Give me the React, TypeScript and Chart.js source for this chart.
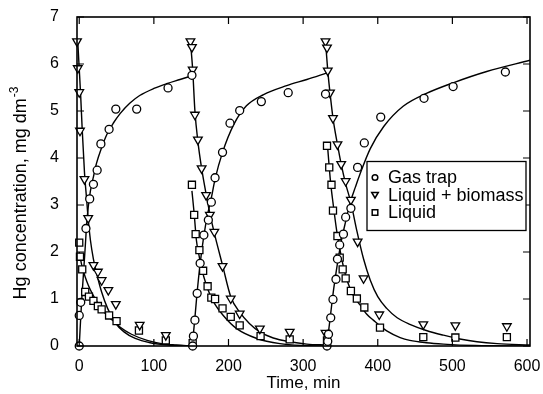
import React, { useEffect, useRef } from 'react';
import { Chart, registerables } from 'chart.js';

Chart.register(...registerables);

const FONT = "'Liberation Sans', Arial, Helvetica, sans-serif";

const xTicks = [0, 100, 200, 300, 400, 500, 600];
const yTicks = [0, 1, 2, 3, 4, 5, 6, 7];

const seriesLabels = ['Gas trap', 'Liquid + biomass', 'Liquid'];
const xTitle = 'Time, min';
const yTitleMain = 'Hg concentration, mg dm';
const yTitleSup = '-3';

// measured points [time (min), Hg concentration (mg dm-3)]
const gasTrapPoints: [number, number][] = [
  [0, 0], [0, 0.65], [2, 0.93], [9, 2.5], [14, 3.13], [19, 3.44], [24, 3.74], [29, 4.3],
  [40, 4.61], [49, 5.04], [77, 5.04], [119, 5.49], [151, 5.76],
  [152, 0], [153, 0.21], [155, 0.55], [158, 1.12], [162, 1.76], [167, 2.36], [173, 2.68],
  [177, 3.06], [182, 3.58], [192, 4.12], [202, 4.74], [215, 5.01], [244, 5.2], [280, 5.39], [330, 5.36],
  [332, 0], [333, 0.1], [334, 0.25], [337, 0.6], [340, 0.99], [344, 1.42], [346, 1.85], [349, 2.15],
  [354, 2.38], [357, 2.74], [364, 2.93], [373, 3.8], [382, 4.32], [404, 4.87], [462, 5.27],
  [501, 5.52], [571, 5.83],
];

const liquidBiomassPoints: [number, number][] = [
  [-3, 6.48], [-2, 5.91], [0, 5.4], [1, 4.58], [7, 3.55], [12, 2.72], [19, 1.72], [25, 1.58],
  [30, 1.4], [39, 1.19], [49, 0.89], [81, 0.45], [116, 0.23],
  [149, 6.48], [151, 6.36], [152, 5.88], [155, 4.92], [159, 4.39], [164, 3.78], [170, 3.21],
  [175, 2.79], [181, 2.43], [192, 1.7], [203, 1.01], [215, 0.69], [242, 0.37], [282, 0.3], [330, 0.28],
  [330, 6.48], [332, 6.35], [333, 5.86], [336, 5.39], [340, 4.85], [346, 4.29], [351, 3.87],
  [357, 3.51], [364, 3.11], [373, 2.22], [381, 1.44], [402, 0.67], [461, 0.46], [504, 0.44], [573, 0.42],
];

const liquidPoints: [number, number][] = [
  [0, 2.2], [1, 1.9], [4, 1.63], [8, 1.15], [13, 1.05], [19, 0.96], [25, 0.85], [30, 0.78],
  [40, 0.65], [50, 0.53], [80, 0.33], [116, 0.12], [152, 0.06],
  [151, 3.43], [154, 2.79], [156, 2.38], [161, 2.04], [166, 1.6], [172, 1.27], [177, 1.03],
  [182, 1.0], [192, 0.8], [203, 0.62], [215, 0.44], [243, 0.21], [282, 0.14], [332, 0.12],
  [332, 4.26], [335, 3.8], [338, 3.43], [340, 2.88], [346, 2.34], [349, 1.88], [353, 1.63],
  [357, 1.44], [364, 1.17], [372, 1.01], [382, 0.82], [403, 0.39], [461, 0.19], [504, 0.18], [573, 0.19],
];

// fitted curves
const gasTrapFit1: [number, number][] = [
  [0, 0], [3, 0.9], [5.5, 1.5], [8, 2.1], [10, 2.6], [12, 2.95], [15, 3.3], [19, 3.6], [23, 3.88],
  [30, 4.22], [37, 4.5], [46, 4.75], [55, 4.95], [68, 5.17], [81, 5.33], [100, 5.48], [117, 5.58],
  [135, 5.67], [151, 5.75],
];
const gasTrapFit2: [number, number][] = [
  [152, 0], [153, 0.25], [155, 0.6], [158, 1.15], [162, 1.75], [167, 2.35], [172, 2.8], [177, 3.15],
  [182, 3.55], [192, 4.12], [207, 4.71], [224, 5.11], [247, 5.35], [278, 5.54], [305, 5.67], [332, 5.81],
];
const gasTrapFit3: [number, number][] = [
  [332, 0], [334, 0.3], [337, 0.7], [340, 1.1], [344, 1.55], [348, 1.95], [352, 2.3], [357, 2.65],
  [363, 3.05], [370, 3.38], [376, 3.65], [390, 4.2], [408, 4.67], [434, 5.1], [466, 5.38],
  [501, 5.6], [546, 5.84], [604, 6.08],
];

const liquidBiomassFit1: [number, number][] = [
  [-2, 6.48], [0, 5.9], [2, 5.3], [4, 4.6], [7, 3.7], [10, 3.1], [12, 2.7], [15, 2.25], [19, 1.85],
  [24, 1.5], [30, 1.15], [38, 0.8], [48, 0.5], [60, 0.3], [75, 0.16], [95, 0.07], [120, 0.02], [150, 0],
];
const liquidBiomassFit2: [number, number][] = [
  [149, 6.48], [152, 5.88], [155, 5.0], [159, 4.35], [164, 3.78], [171, 3.15], [175, 2.82], [181, 2.4],
  [192, 1.72], [203, 1.05], [215, 0.72], [228, 0.48], [242, 0.3], [260, 0.17], [282, 0.09],
  [305, 0.04], [332, 0.02],
];
const liquidBiomassFit3: [number, number][] = [
  [330, 6.48], [333, 5.86], [336, 5.39], [340, 4.85], [346, 4.29], [351, 3.87], [357, 3.45],
  [364, 3.05], [372, 2.45], [381, 1.85], [390, 1.4], [400, 1.05], [412, 0.8], [426, 0.6],
  [443, 0.46], [465, 0.33], [488, 0.23], [510, 0.15], [533, 0.09], [560, 0.05], [604, 0.02],
];

const liquidFit1: [number, number][] = [
  [0, 2.0], [2, 1.82], [4, 1.68], [8, 1.47], [12, 1.3], [18, 1.1], [28, 0.83], [38, 0.64],
  [48, 0.5], [55, 0.4], [70, 0.25], [91, 0.12], [110, 0.05], [130, 0.02], [150, 0],
];
const liquidFit2: [number, number][] = [
  [151, 3.3], [154, 2.82], [157, 2.25], [160, 1.97], [163, 1.72], [171, 1.26], [180, 0.94],
  [193, 0.65], [211, 0.37], [238, 0.16], [269, 0.05], [300, 0.01], [332, 0],
];
const liquidFit3: [number, number][] = [
  [333, 4.2], [335, 3.8], [337, 3.45], [340, 3.05], [345, 2.45], [352, 1.83], [357, 1.5],
  [363, 1.22], [370, 1.0], [376, 0.88], [385, 0.68], [394, 0.55], [412, 0.32], [430, 0.18],
  [443, 0.12], [465, 0.07], [488, 0.04], [530, 0.01], [604, 0],
];

const fits = [
  gasTrapFit1, gasTrapFit2, gasTrapFit3,
  liquidBiomassFit1, liquidBiomassFit2, liquidBiomassFit3,
  liquidFit1, liquidFit2, liquidFit3,
];

const toXY = (arr: [number, number][]) => arr.map(([x, y]) => ({ x, y }));

const zeroPad = (s: any) => {
  s.paddingLeft = 0;
  s.paddingRight = 0;
  s.paddingTop = 0;
  s.paddingBottom = 0;
};

const frameTicksPlugin = {
  id: 'frameTicks',
  afterDatasetsDraw(chart: any) {
    const { ctx, chartArea: a, scales } = chart;
    ctx.save();
    ctx.strokeStyle = '#000';
    ctx.lineWidth = 1.6;
    ctx.strokeRect(a.left, a.top, a.right - a.left, a.bottom - a.top);
    ctx.lineWidth = 1.2;
    const L = 7;
    ctx.beginPath();
    for (const v of xTicks) {
      const px = scales.x.getPixelForValue(v);
      ctx.moveTo(px, a.bottom);
      ctx.lineTo(px, a.bottom - L);
      ctx.moveTo(px, a.top);
      ctx.lineTo(px, a.top + L);
    }
    for (const v of yTicks) {
      const py = scales.y.getPixelForValue(v);
      ctx.moveTo(a.left, py);
      ctx.lineTo(a.left + L, py);
      ctx.moveTo(a.right, py);
      ctx.lineTo(a.right - L, py);
    }
    ctx.stroke();
    ctx.restore();
  },
};

const yTitlePlugin = {
  id: 'yTitle',
  afterDraw(chart: any) {
    const { ctx, chartArea: a } = chart;
    ctx.save();
    const cx = 20;
    const cy = (a.top + a.bottom) / 2 + 12;
    ctx.translate(cx, cy);
    ctx.rotate(-Math.PI / 2);
    ctx.fillStyle = '#000';
    ctx.textBaseline = 'alphabetic';
    ctx.textAlign = 'left';
    const mainFont = `18px ${FONT}`;
    const supFont = `12px ${FONT}`;
    ctx.font = mainFont;
    const wMain = ctx.measureText(yTitleMain).width;
    ctx.font = supFont;
    const wSup = ctx.measureText(yTitleSup).width;
    const start = -(wMain + wSup) / 2;
    ctx.font = mainFont;
    ctx.fillText(yTitleMain, start, 6);
    ctx.font = supFont;
    ctx.fillText(yTitleSup, start + wMain + 1, -2);
    ctx.restore();
  },
};

const boxLegendPlugin = {
  id: 'boxLegend',
  afterDraw(chart: any) {
    const { ctx, chartArea: a } = chart;
    const left = a.right - 163;
    const top = a.top + 144.5;
    const w = 159;
    const h = 69;
    ctx.save();
    ctx.fillStyle = '#fff';
    ctx.fillRect(left, top, w, h);
    ctx.strokeStyle = '#000';
    ctx.lineWidth = 1.3;
    ctx.strokeRect(left, top, w, h);
    ctx.font = `18px ${FONT}`;
    ctx.textBaseline = 'middle';
    ctx.textAlign = 'left';
    ctx.fillStyle = '#000';
    const mx = left + 8;
    seriesLabels.forEach((label, i) => {
      const y = top + 16 + i * 17.5;
      ctx.beginPath();
      ctx.lineWidth = 1.5;
      if (i === 0) {
        ctx.arc(mx, y, 2.8, 0, Math.PI * 2);
      } else if (i === 1) {
        ctx.moveTo(mx - 3.3, y - 2.5);
        ctx.lineTo(mx + 3.3, y - 2.5);
        ctx.lineTo(mx, y + 3);
        ctx.closePath();
      } else {
        ctx.rect(mx - 2.8, y - 2.8, 5.6, 5.6);
      }
      ctx.stroke();
      ctx.fillText(label, left + 21, y + 1);
    });
    ctx.restore();
  },
};

export default function App() {
  const canvasRef = useRef<HTMLCanvasElement | null>(null);

  useEffect(() => {
    const canvas = canvasRef.current;
    if (!canvas) return;

    const markerBase = {
      showLine: false,
      pointBackgroundColor: '#fff',
      pointBorderColor: '#000',
      pointBorderWidth: 1.3,
      clip: false as any,
      order: 0,
    };

    const datasets: any[] = [
      { ...markerBase, label: seriesLabels[0], data: toXY(gasTrapPoints), pointStyle: 'circle', pointRadius: 4 },
      { ...markerBase, label: seriesLabels[1], data: toXY(liquidBiomassPoints), pointStyle: 'triangle', pointRotation: 180, pointRadius: 5 },
      { ...markerBase, label: seriesLabels[2], data: toXY(liquidPoints), pointStyle: 'rect', pointRadius: 5 },
      ...fits.map((f, i) => ({
        label: 'fit' + i,
        data: toXY(f),
        showLine: true,
        pointRadius: 0,
        borderColor: '#000',
        borderWidth: 1.4,
        cubicInterpolationMode: 'monotone',
        fill: false,
        order: 1,
      })),
    ];

    const tickFont = { family: FONT, size: 16 };

    const chart = new Chart(canvas, {
      type: 'scatter',
      data: { datasets },
      options: {
        animation: false,
        responsive: false,
        devicePixelRatio: 1,
        layout: { padding: { top: 17, right: 13, left: 0, bottom: 0 } },
        plugins: { legend: { display: false }, tooltip: { enabled: false } },
        scales: {
          x: {
            type: 'linear',
            min: -3,
            max: 604,
            afterBuildTicks: (s: any) => { s.ticks = xTicks.map((v) => ({ value: v })); },
            afterFit: (s: any) => { s.height = 48; zeroPad(s); },
            grid: { display: false, drawTicks: false },
            border: { display: false },
            ticks: { padding: 11, color: '#000', font: tickFont, maxRotation: 0 },
            title: { display: true, text: xTitle, color: '#000', font: { family: FONT, size: 17 }, padding: 0 },
          },
          y: {
            type: 'linear',
            min: 0,
            max: 7,
            afterBuildTicks: (s: any) => { s.ticks = yTicks.map((v) => ({ value: v })); },
            afterFit: (s: any) => { s.width = 77; zeroPad(s); },
            grid: { display: false, drawTicks: false },
            border: { display: false },
            ticks: { padding: 18, color: '#000', font: tickFont },
          },
        },
      } as any,
      plugins: [frameTicksPlugin, yTitlePlugin, boxLegendPlugin],
    });

    return () => chart.destroy();
  }, []);

  return (
    <div style={{ position: 'fixed', left: 0, top: 0, width: 543, height: 394, background: '#fff' }}>
      <canvas ref={canvasRef} width={543} height={394} style={{ display: 'block' }} />
    </div>
  );
}
